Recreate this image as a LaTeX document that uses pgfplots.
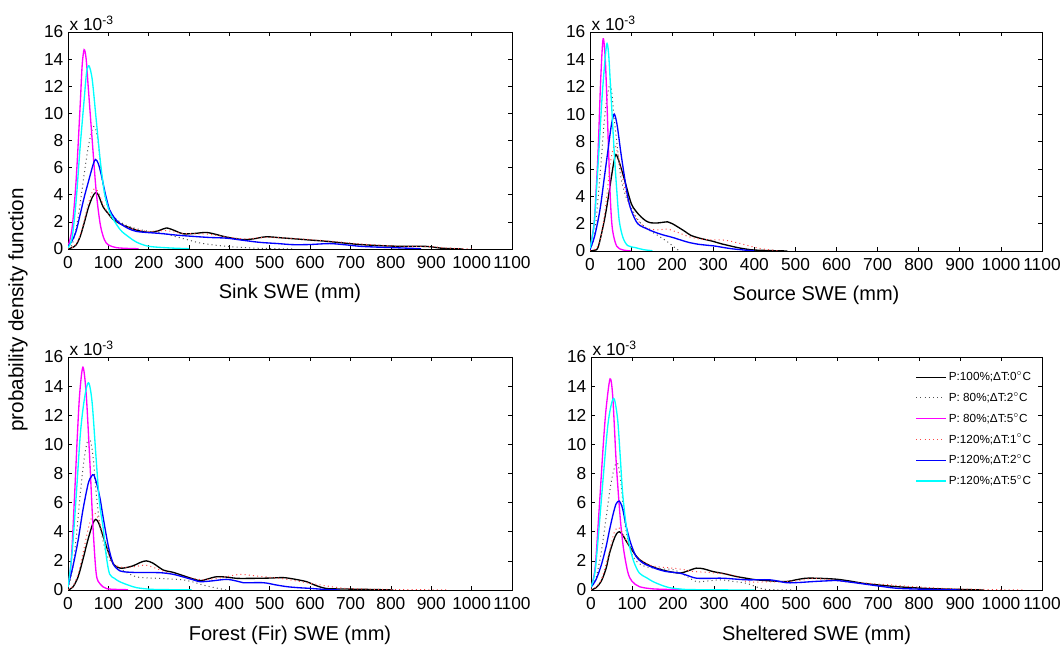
\documentclass[border=0pt]{standalone}
\usepackage{fontspec}
\setmainfont{Liberation Sans}
\usepackage{pgfplots}
\pgfplotsset{compat=1.18}
\definecolor{dgray}{RGB}{80,80,80}
\definecolor{lred}{RGB}{255,70,70}
\definecolor{pmag}{RGB}{255,0,255}
\definecolor{pcya}{RGB}{0,255,255}
\definecolor{pblu}{RGB}{0,0,255}
\tikzset{
 sA/.style={color=black, line width=1pt, smooth},
 sB/.style={color=dgray, line width=0.75pt, dash pattern=on 0.75pt off 2.4pt, smooth},
 sC/.style={color=pmag, line width=1pt, smooth},
 sD/.style={color=lred, line width=0.75pt, dash pattern=on 0.75pt off 2.4pt, smooth},
 sE/.style={color=pblu, line width=1pt, smooth},
 sF/.style={color=pcya, line width=1pt, smooth},
}
\pgfplotsset{
 panel/.style={scale only axis, anchor=south west, xmin=0, xmax=1100, ymin=0, ymax=16,
   xtick={0,100,...,1100}, ytick={0,2,...,16}, tick align=inside, major tick length=3pt,
   axis line style={line width=0.6pt}, every tick/.style={black, line width=0.5pt},
   tick label style={font=\fontsize{13}{15}\selectfont},
   /pgf/number format/assume math mode=true, /pgf/number format/set thousands separator={},
   xticklabel style={yshift=-2pt}, yticklabel style={xshift=0pt},
   label style={font=\fontsize{15}{17}\selectfont},
   scaled ticks=false, clip mode=individual,
   after end axis/.code={\node[anchor=south west, inner sep=1pt, font=\fontsize{13}{15}\selectfont] at (rel axis cs:0,1) {x 10\textsuperscript{-3}};}},
}
\begin{document}
\begin{tikzpicture}
\useasboundingbox (0,0) rectangle (798pt,484.5pt);
\node[rotate=90, font=\fontsize{15.5}{17}\selectfont] at (13.5pt,252pt) {probability density function};
% ---------- Sink
\begin{axis}[panel, at={(51pt,297.75pt)}, width=333pt, height=162.75pt, xlabel={Sink SWE (mm)}, xlabel style={yshift=-4.5pt}]
\addplot[sA] coordinates {(0,0) (10,0.1) (20,0.3) (30,0.9) (40,1.9) (50,3.0) (60,3.8) (68,4.15) (75,4.0) (87,3.1) (100,2.6) (111,2.2) (130,1.85) (150,1.6) (175,1.35) (202,1.23) (225,1.35) (244,1.55) (265,1.35) (285,1.12) (315,1.15) (343,1.22) (370,1.05) (392,0.88) (434,0.69) (460,0.75) (491,0.9) (530,0.82) (557,0.76) (600,0.66) (640,0.57) (680,0.45) (723,0.33) (765,0.26) (805,0.21) (850,0.2) (888,0.19) (910,0.12) (929,0.05) (979,0)};
\addplot[sB] coordinates {(0,0) (10,0.3) (20,1.5) (29,3.1) (40,5.5) (50,7.5) (60,8.8) (67,9.0) (75,7.8) (83,5.5) (93,3.7) (103,2.8) (120,2.2) (140,1.8) (169,1.5) (200,1.3) (227,1.2) (250,1.05) (268,0.9) (300,0.65) (326,0.45) (360,0.3) (392,0.2) (430,0.12) (475,0.05) (557,0)};
\addplot[sC] coordinates {(0,0.2) (10,1.5) (20,5) (30,10.5) (35,13.5) (40,14.7) (45,14.0) (50,12.0) (60,8.0) (70,4.2) (80,1.8) (90,0.7) (100,0.3) (120,0.1) (150,0.04) (175,0.02)};
\addplot[sD] coordinates {(0,0) (10,0.1) (20,0.35) (30,1.0) (40,2.1) (50,3.3) (60,4.2) (66,4.45) (75,4.2) (87,3.3) (100,2.6) (111,2.2) (130,1.85) (150,1.6) (175,1.4) (202,1.3) (244,1.35) (285,1.15) (343,1.1) (392,0.9) (434,0.75) (491,0.85) (557,0.78) (640,0.6) (723,0.38) (805,0.22) (888,0.18) (950,0.06) (1000,0)};
\addplot[sE] coordinates {(0,0.2) (10,0.6) (20,1.3) (29,2.4) (40,3.8) (50,4.9) (62,6.2) (68,6.6) (75,6.3) (83,5.4) (93,4.0) (103,2.9) (115,2.3) (128,1.9) (150,1.5) (169,1.3) (194,1.22) (227,1.15) (270,1.02) (310,0.93) (350,0.85) (392,0.8) (434,0.64) (475,0.49) (520,0.4) (557,0.32) (600,0.33) (648,0.4) (690,0.3) (723,0.2) (765,0.14) (805,0.1) (850,0.05) (875,0.02)};
\addplot[sF] coordinates {(0,0.1) (10,0.8) (20,3.5) (30,7.5) (40,11) (46,13) (52,13.5) (60,12.5) (70,9.5) (80,6.5) (90,4.2) (100,3.0) (110,2.3) (130,1.4) (150,0.9) (170,0.5) (200,0.2) (250,0.08) (300,0.02)};
\end{axis}
% ---------- Source
\begin{axis}[panel, at={(442.5pt,296.25pt)}, width=339pt, height=164.25pt, xlabel={Source SWE (mm)}, xlabel style={yshift=-4.5pt}]
\addplot[sA] coordinates {(0,0) (10,0.05) (20,0.3) (35,2.25) (45,4.0) (51,5.2) (58,6.5) (63,7.05) (70,6.6) (84,5.2) (100,3.5) (112,2.9) (124,2.5) (136,2.2) (148,2.06) (165,2.05) (189,2.13) (200,2.0) (213,1.77) (230,1.45) (245,1.15) (265,0.95) (286,0.8) (300,0.7) (318,0.54) (340,0.38) (359,0.25) (380,0.14) (400,0.07) (440,0.03) (480,0)};
\addplot[sB] coordinates {(0,0.1) (10,1.0) (18.6,3.5) (27,6.5) (35,9.6) (42,11.3) (49,12.2) (54,11.3) (59,9.6) (67,7.5) (75,5.4) (87,4.0) (100,3.2) (112,2.5) (124,2.0) (140,1.6) (156,1.3) (172,1.0) (189,0.66) (200,0.4) (213,0.1) (221,0)};
\addplot[sC] coordinates {(0,0.2) (10,2) (15,4.5) (20,7.5) (26,12.5) (32,15.5) (38,13.5) (45,7.5) (50,3.5) (55,1.5) (65,0.35) (80,0.08) (100,0)};
\addplot[sD] coordinates {(0,0) (10,0.1) (20,0.4) (30,1.6) (40,3.8) (50,6.5) (59,7.7) (66,7.3) (75,6.0) (87,4.3) (100,3.0) (120,2.1) (140,1.65) (165,1.55) (189,1.6) (205,1.45) (221,1.27) (240,1.05) (262,0.9) (290,0.82) (326,0.8) (359,0.6) (390,0.35) (420,0.15) (464,0)};
\addplot[sE] coordinates {(0,0.1) (10.5,1.0) (20,2.3) (26.7,3.5) (35,5.4) (43,7.2) (52,9.2) (59,10.0) (66,9.2) (75,7.2) (84,5.4) (91.5,4.0) (100,3.0) (116,2.0) (140,1.6) (160,1.35) (180.6,1.15) (200,1.0) (221,0.8) (240,0.63) (262,0.5) (285,0.42) (302,0.37) (320,0.28) (343,0.17) (365,0.1) (383,0.05) (400,0.02)};
\addplot[sF] coordinates {(0,0.2) (10,2) (20,6.5) (30,11.5) (40,15.0) (45,14.5) (50,12) (59,7.2) (65,4.5) (71,2.25) (80,1.0) (91.5,0.4) (110,0.25) (130,0.1) (152,0.02)};
\end{axis}
% ---------- Forest
\begin{axis}[panel, at={(51pt,42pt)}, width=333pt, height=174.75pt, xlabel={Forest (Fir) SWE (mm)}, xlabel style={yshift=-5.5pt}]
\addplot[sA] coordinates {(0,0) (12,0.2) (25,0.9) (37,2.1) (47,3.2) (54,3.9) (62,4.6) (68.7,4.85) (76,4.6) (87,3.7) (100,2.6) (112,1.8) (124,1.55) (136,1.5) (160,1.65) (180,1.9) (194,2.0) (210,1.85) (236,1.37) (255,1.25) (269,1.14) (300,0.85) (327,0.64) (345,0.75) (368,0.91) (395,0.88) (418,0.8) (460,0.8) (500,0.82) (533,0.85) (560,0.75) (591,0.57) (615,0.3) (641,0.1) (680,0.07) (724,0.05) (780,0.02) (806,0)};
\addplot[sB] coordinates {(0,0.1) (10,1.2) (20,3.5) (30,6.5) (40,9.0) (48,10.2) (54,10.4) (62,9.2) (70,6.6) (80,4.3) (95,2.5) (108,1.9) (120,1.6) (145,1.2) (170,0.9) (200,0.82) (227,0.8) (260,0.75) (285,0.7) (310,0.55) (335,0.34) (360,0.18) (393,0)};
\addplot[sC] coordinates {(0,0.2) (8,2) (16.5,6.6) (23,10.5) (29,13.5) (37,15.3) (45,13.5) (54,8.9) (62,4.3) (70,1.1) (80,0.4) (95,0.1) (120,0.04) (149,0.02)};
\addplot[sD] coordinates {(0,0) (12,0.25) (25,1.1) (37,2.5) (50,4.2) (60,5.1) (66,5.3) (75,4.9) (87,3.8) (100,2.6) (112,1.8) (136,1.55) (165,1.6) (194,1.7) (236,1.3) (269,1.03) (310,0.8) (335,0.7) (380,0.85) (426,1.07) (470,0.95) (525,0.8) (560,0.65) (600,0.46) (640,0.28) (683,0.12) (740,0.06) (806,0.03) (880,0.02) (939,0)};
\addplot[sE] coordinates {(0,0.3) (12,1.6) (25,3.4) (37,5.5) (50,7.3) (58,7.8) (64,7.9) (72,7.2) (80,6.2) (87,5.0) (100,3.0) (112,1.8) (124,1.4) (136,1.26) (170,1.2) (227,1.19) (260,1.08) (285,0.9) (310,0.7) (327,0.57) (355,0.62) (393,0.73) (420,0.6) (434,0.5) (484,0.5) (515,0.35) (542,0.23) (570,0.16) (600,0.11) (641,0.03) (674,0)};
\addplot[sF] coordinates {(0,0.2) (10,2.5) (20.7,6.6) (30,10.5) (37,12.4) (45,13.8) (52,14.2) (60,12.8) (70,8.9) (78,6.0) (87,4.3) (95,2.3) (103,1.1) (115,0.8) (128,0.57) (150,0.33) (170,0.16) (200,0.06) (227,0.03) (306,0.01)};
\end{axis}
% ---------- Sheltered
\begin{axis}[panel, at={(443.25pt,42pt)}, width=338.25pt, height=174.75pt, xlabel={Sheltered SWE (mm)}, xlabel style={yshift=-5.5pt},
  legend style={at={(rel axis cs:0.985,0.955)}, anchor=north east, draw=none, fill=none,
    font=\fontsize{8.8}{10}\selectfont, row sep=3.4pt, inner sep=1pt},
  legend cell align=left,
  legend image code/.code={\draw[#1, sharp plot] (0pt,0pt) -- (22pt,0pt);}]
\addplot[sA] coordinates {(0,0) (12,0.15) (25,0.6) (37,1.5) (45,2.5) (55,3.4) (62,3.85) (69,4.0) (77,3.8) (85,3.4) (94,3.0) (106,2.5) (118,2.1) (138,1.75) (159,1.5) (185,1.3) (216,1.16) (235,1.3) (257,1.5) (275,1.45) (297,1.27) (325,1.12) (354,0.93) (380,0.8) (403,0.7) (440,0.62) (477,0.58) (500,0.7) (525,0.81) (560,0.8) (599,0.74) (630,0.62) (664,0.46) (700,0.35) (745,0.23) (790,0.15) (827,0.1) (890,0.05) (958,0)};
\addlegendentry{P:100\%;ΔT:0$^{\circ}$C}
\addplot[sB] coordinates {(0,0.1) (12,0.8) (25,2.6) (37,5.0) (48,7.2) (58,8.5) (65,8.7) (72,7.6) (81.5,4.9) (90,3.4) (102,2.3) (118,1.8) (134,1.6) (165,1.45) (200,1.4) (230,1.0) (257,0.58) (285,0.62) (314,0.7) (345,0.6) (379,0.46) (405,0.2) (428,0.04) (493,0)};
\addlegendentry{P: 80\%;ΔT:2$^{\circ}$C}
\addplot[sC] coordinates {(0,0.2) (10,1.5) (20,5.6) (30,10.0) (37,12.5) (46.5,14.5) (53,13.3) (61,9.0) (67,6.5) (73,4.4) (80,2.7) (90,1.2) (100,0.6) (118,0.23) (150,0.08) (200,0.03) (240,0.02)};
\addlegendentry{P: 80\%;ΔT:5$^{\circ}$C}
\addplot[sD] coordinates {(0,0) (12,0.2) (25,0.7) (37,1.8) (47,2.9) (56,3.9) (65,4.3) (73,4.1) (82,3.6) (94,3.0) (106,2.5) (118,2.1) (140,1.75) (160,1.6) (200,1.5) (230,1.38) (250,1.27) (290,1.2) (330,1.1) (354,0.95) (379,0.58) (420,0.55) (477,0.58) (520,0.7) (535,0.81) (580,0.72) (615,0.58) (650,0.5) (676,0.46) (730,0.35) (786,0.23) (867,0.1) (950,0.04) (1056,0)};
\addlegendentry{P:120\%;ΔT:1$^{\circ}$C}
\addplot[sE] coordinates {(0,0.2) (12,0.7) (25,1.7) (37,3.0) (45,4.1) (53,5.1) (61,5.9) (69,6.1) (77,5.6) (85.6,4.4) (97,3.2) (110,2.3) (122,1.95) (134,1.74) (160,1.45) (183,1.27) (216,1.16) (240,0.95) (257,0.81) (290,0.8) (322,0.81) (379,0.7) (436,0.7) (477,0.5) (510,0.52) (542,0.58) (570,0.62) (599,0.65) (630,0.55) (664,0.42) (700,0.28) (745,0.12) (800,0.06) (850,0.03) (900,0)};
\addlegendentry{P:120\%;ΔT:2$^{\circ}$C}
\addplot[sF] coordinates {(0,0.2) (10,1.3) (20,4.4) (30,7.8) (41,11.3) (50,12.8) (57,13.1) (65,11.7) (71,9.3) (77,6.7) (85,4.6) (94,3.0) (105,1.9) (118,1.16) (135,0.85) (151,0.58) (170,0.35) (191,0.16) (220,0.06) (240,0.03) (300,0.01) (399,0)};
\addlegendentry{P:120\%;ΔT:5$^{\circ}$C}
\end{axis}
\end{tikzpicture}
\end{document}
